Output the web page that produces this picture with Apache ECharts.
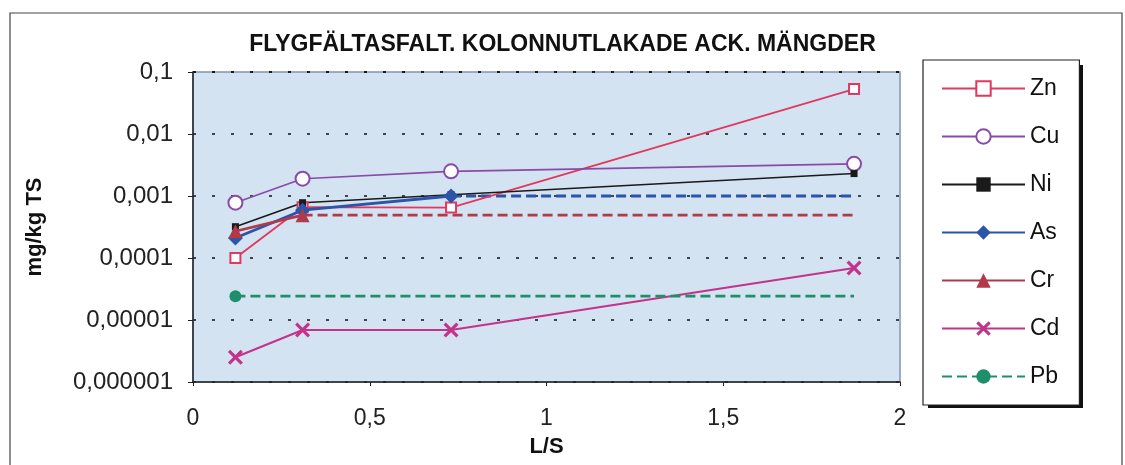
<!DOCTYPE html>
<html>
<head>
<meta charset="utf-8">
<script src="https://cdn.jsdelivr.net/npm/echarts@6/dist/echarts.min.js"></script>
<style>html,body{margin:0;padding:0;background:#fff;}#c{width:1125px;height:465px;}</style>
</head>
<body>
<div id="c"></div>
<script>
var titleText = 'FLYGFÄLTASFALT. KOLONNUTLAKADE ACK. MÄNGDER';
var xLS = [0.12, 0.31, 0.73, 1.87];
var zn = [0.0001, 0.00066, 0.00065, 0.053];
var cu = [0.00078, 0.0019, 0.0025, 0.0033];
var ni = [0.00032, 0.00078, 0.00105, 0.0023];
var as = [0.00021, 0.00059, 0.001];
var asExt = [0.001, 0.001];
var asExtX = [0.73, 1.87];
var cr = [0.00027, 0.00049];
var crExt = [0.00049, 0.00049];
var crExtX = [0.31, 1.87];
var cd = [0.0000025, 0.0000069, 0.0000069, 0.000069];
var pb = [0.0000242, 0.0000242];
var pbX = [0.12, 1.87];
var yTickLabels = ['0,000001', '0,00001', '0,0001', '0,001', '0,01', '0,1'];
var xTickLabels = ['0', '0,5', '1', '1,5', '2'];

function pairs(xs, ys) { return ys.map(function (v, i) { return [xs[i], v]; }); }

var font = 'Liberation Sans, Arial, sans-serif';
var crossPath = 'path://M0,1.5L1.5,0L5,3.5L8.5,0L10,1.5L6.5,5L10,8.5L8.5,10L5,6.5L1.5,10L0,8.5L3.5,5Z';

var chart = echarts.init(document.getElementById('c'));
chart.setOption({
  animation: false,
  backgroundColor: '#ffffff',
  graphic: [{
    type: 'rect', shape: { x: 10, y: 13, width: 1112, height: 470 },
    style: { fill: 'none', stroke: '#444', lineWidth: 1.2 }, silent: true, z: -10
  }, {
    type: 'rect', shape: { x: 928, y: 65, width: 155, height: 343 },
    style: { fill: '#111', stroke: 'none' }, silent: true, z: -5
  }],
  title: {
    text: titleText, left: 'center', top: 28,
    textStyle: { fontFamily: font, fontSize: 23, fontWeight: 'bold', color: '#111' }
  },
  grid: {
    left: 193, right: 225, top: 72, bottom: 83,
    show: true, backgroundColor: '#d3e3f2', borderColor: '#7f97b8', borderWidth: 1.5
  },
  legend: {
    orient: 'vertical', left: 923, top: 60,
    padding: [17, 20, 17, 18], itemGap: 25, itemWidth: 83, itemHeight: 18,
    backgroundColor: '#fff', borderColor: '#222', borderWidth: 1.2,
    textStyle: { fontFamily: font, fontSize: 23, color: '#111', padding: [0, 0, 0, 0] },
    data: ['Zn', 'Cu', 'Ni', 'As', 'Cr', 'Cd', 'Pb']
  },
  xAxis: {
    type: 'value', min: 0, max: 2, interval: 0.5,
    name: 'L/S', nameLocation: 'middle', nameGap: 54,
    nameTextStyle: { fontFamily: font, fontSize: 22, fontWeight: 'bold', color: '#111' },
    axisLine: { onZero: false, lineStyle: { color: '#222', width: 1.5 } },
    axisTick: { show: true, length: 4, lineStyle: { color: '#222' } },
    axisLabel: {
      margin: 25, fontFamily: font, fontSize: 23, color: '#222',
      formatter: function (v) { return xTickLabels[Math.round(v / 0.5)]; }
    },
    splitLine: { show: false }
  },
  yAxis: {
    type: 'log', logBase: 10, min: 0.000001, max: 0.1,
    name: 'mg/kg TS', nameLocation: 'middle', nameGap: 147,
    nameTextStyle: { fontFamily: font, fontSize: 22, fontWeight: 'bold', color: '#111' },
    axisLine: { show: true, lineStyle: { color: '#222', width: 1.5 } },
    axisTick: { show: true, length: 5, lineStyle: { color: '#222' } },
    axisLabel: {
      margin: 20, fontFamily: font, fontSize: 24, color: '#222',
      formatter: function (v) { return yTickLabels[Math.round(Math.log10(v)) + 6]; }
    },
    splitLine: { show: true, lineStyle: { color: '#111', type: [3, 16], width: 1.5 } }
  },
  series: [
    { name: 'Zn', type: 'line', data: pairs(xLS, zn), symbol: 'rect', symbolSize: 10,
      lineStyle: { color: '#e0385f', width: 1.8 }, itemStyle: { color: '#ffffff', borderColor: '#e0385f', borderWidth: 2 }, z: 3 },
    { name: 'Cu', type: 'line', data: pairs(xLS, cu), symbol: 'emptyCircle', symbolSize: 14,
      lineStyle: { color: '#8a4aa8', width: 1.6 }, itemStyle: { color: '#8a4aa8', borderColor: '#8a4aa8', borderWidth: 2.5 }, z: 3 },
    { name: 'Ni', type: 'line', data: pairs(xLS, ni), symbol: 'rect', symbolSize: 7,
      lineStyle: { color: '#1a1a1a', width: 1.6 }, itemStyle: { color: '#1a1a1a' }, z: 3 },
    { name: 'As', type: 'line', data: pairs(xLS, as), symbol: 'diamond', symbolSize: 15,
      lineStyle: { color: '#2a55a8', width: 2.8 }, itemStyle: { color: '#2a55a8' }, z: 4 },
    { name: 'AsExt', type: 'line', data: pairs(asExtX, asExt), symbol: 'none',
      lineStyle: { color: '#2a55a8', width: 2.8, type: [10, 5] }, z: 2 },
    { name: 'Cr', type: 'line', data: pairs(xLS, cr), symbol: 'triangle', symbolSize: 14,
      lineStyle: { color: '#b03a4a', width: 2.8 }, itemStyle: { color: '#b03a4a' }, z: 5 },
    { name: 'CrExt', type: 'line', data: pairs(crExtX, crExt), symbol: 'none',
      lineStyle: { color: '#b03a4a', width: 2.8, type: [10, 5] }, z: 2 },
    { name: 'Cd', type: 'line', data: pairs(xLS, cd), symbol: crossPath, symbolSize: 15,
      lineStyle: { color: '#c4338a', width: 2.2 }, itemStyle: { color: '#c4338a' }, z: 3 },
    { name: 'Pb', type: 'line',
      data: pairs(pbX, pb).map(function (p, i) { return i === 0 ? { value: p } : { value: p, symbol: 'none' }; }),
      symbol: 'circle', symbolSize: 12,
      lineStyle: { color: '#1e8f6a', width: 2.8, type: [10, 5] }, itemStyle: { color: '#1e8f6a' }, z: 3 }
  ]
});
</script>
</body>
</html>
